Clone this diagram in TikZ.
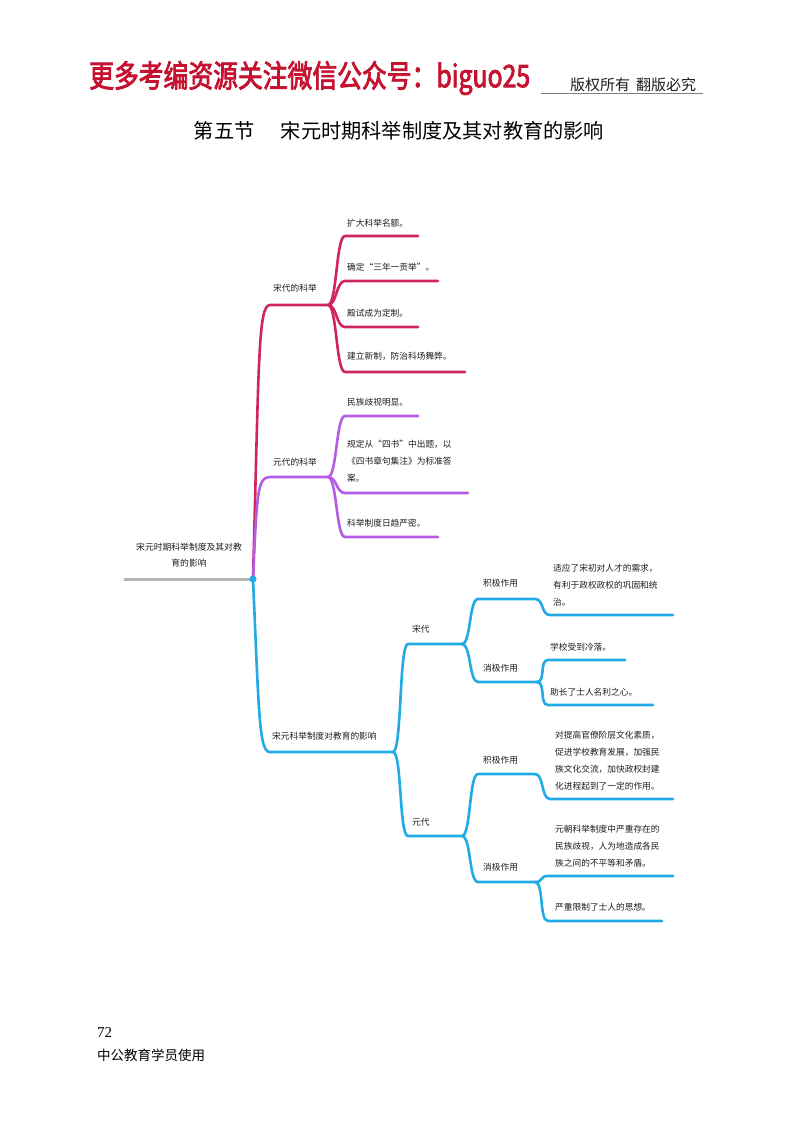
\documentclass[tikz,border=0pt]{standalone}
\usepackage{fontspec}
\newfontfamily\cjk{Noto Sans CJK SC}
\newfontfamily\cjkhead[FakeStretch=0.8,FakeBold=2.5]{Noto Sans CJK SC}
\newfontfamily\pagenum{Liberation Serif}
\definecolor{songc}{RGB}{206,38,92}
\definecolor{yuanc}{RGB}{180,92,230}
\definecolor{effc}{RGB}{32,170,230}
\definecolor{rootc}{RGB}{180,180,180}
\definecolor{headred}{RGB}{196,18,48}
\definecolor{txt}{RGB}{30,30,30}

\begin{document}
\begin{tikzpicture}[x=1pt, y=-1pt,
	every node/.style={inner sep=0pt, text=txt, font=\cjk\fontsize{8.7}{17}\selectfont},
	lbl/.style={anchor=west},
	leaf/.style={anchor=west, align=left},
	songline/.style={draw=songc, line width=2.6pt, line cap=round},
	yuanline/.style={draw=yuanc, line width=2.6pt, line cap=round},
	effline/.style={draw=effc, line width=2.6pt, line cap=round},
	fork/.style={to path={.. controls +(9,0) and +(-9,0) .. (\tikztotarget) \tikztonodes}}]
	\fill[white] (0,0) rectangle (800,1124);
	\useasboundingbox (0,0) rectangle (800,1124);

	% header
	\node[anchor=west, font=\cjkhead\fontsize{31}{31}\selectfont, text=headred] (head) at (89,78) {更多考编资源关注微信公众号：biguo25};
	\node[anchor=west, font=\cjk\fontsize{15}{15}\selectfont] (rights) at (570,85) {版权所有\hspace{0.4em}翻版必究};
	\coordinate (ulA) at (541,93);
	\coordinate (ulB) at (703,93);
	\draw[gray, line width=0.8pt] (ulA) -- (ulB);
	\node[font=\cjk\fontsize{20.2}{21}\selectfont, text=black] (title) at (399,131) {第五节\hspace{1.3em}宋元时期科举制度及其对教育的影响};

	% root
	\coordinate (root) at (253,579);
	\coordinate (rootend) at (124,579);
	\draw[draw=rootc, line width=3pt] (rootend) -- (root);
	\node[align=center, font=\cjk\fontsize{8.8}{16}\selectfont] (roottxt) at (189,555) {宋元时期科举制度及其对教\\育的影响};

	% song
	\coordinate (songL) at (270,305);
	\coordinate (songR) at (328,305);
	\draw[songline] (root) .. controls (259,360) and (258,305) .. (songL) -- (songR);
	\node[lbl] (song) at (273,288) {宋代的科举};
	\foreach \y/\xe [count=\i] in {236/418, 281/438, 327/418, 372/465} {
		\coordinate (sa\i) at (345,\y);
		\coordinate (sb\i) at (\xe,\y);
		\draw[songline] (songR) to[fork] (sa\i) -- (sb\i);
	}
	\node[leaf] (s1) at (347,223) {扩大科举名额。};
	\node[leaf] (s2) at (347,267) {确定“三年一贡举”。};
	\node[leaf] (s3) at (347,313) {殿试成为定制。};
	\node[leaf] (s4) at (347,356) {建立新制，防治科场舞弊。};

	% yuan
	\coordinate (yuanL) at (270,477);
	\coordinate (yuanR) at (328,477);
	\draw[yuanline] (root) .. controls (257,495) and (257,477) .. (yuanL) -- (yuanR);
	\node[lbl] (yuan) at (273,462) {元代的科举};
	\foreach \y/\xe [count=\i] in {416/418, 493/468, 537/438} {
		\coordinate (ya\i) at (345,\y);
		\coordinate (yb\i) at (\xe,\y);
		\draw[yuanline] (yuanR) to[fork] (ya\i) -- (yb\i);
	}
	\node[leaf] (y1) at (347,402) {民族歧视明显。};
	\node[leaf] (y2) at (347,461) {规定从“四书”中出题，以\\《四书章句集注》为标准答\\案。};
	\node[leaf] (y3) at (347,523) {科举制度日趋严密。};

	% effects
	\coordinate (effL) at (270,752);
	\coordinate (effR) at (393,752);
	\draw[effline] (root) .. controls (259,715) and (259,752) .. (effL) -- (effR);
	\node[lbl] (eff) at (272,736) {宋元科举制度对教育的影响};

	\coordinate (sdL) at (408,644);
	\coordinate (sdR) at (462,644);
	\coordinate (ydL) at (408,836);
	\coordinate (ydR) at (462,836);
	\draw[effline] (effR) to[fork] (sdL) -- (sdR);
	\draw[effline] (effR) to[fork] (ydL) -- (ydR);
	\node[lbl] (sd) at (412,629) {宋代};
	\node[lbl] (yd) at (412,822) {元代};

	% song effects
	\coordinate (sposL) at (478,599);
	\coordinate (sposR) at (535,599);
	\coordinate (snegL) at (478,682);
	\coordinate (snegR) at (537,682);
	\draw[effline] (sdR) to[fork] (sposL) -- (sposR);
	\draw[effline] (sdR) to[fork] (snegL) -- (snegR);
	\node[lbl] (spos) at (483,583) {积极作用};
	\node[lbl] (sneg) at (483,668) {消极作用};
	\coordinate (sp1a) at (550,615);
	\coordinate (sp1b) at (673,615);
	\draw[effline] (sposR) to[fork] (sp1a) -- (sp1b);
	\node[leaf] (sp1) at (553,585) {适应了宋初对人才的需求，\\有利于政权政权的巩固和统\\治。};
	\foreach \y/\xe [count=\i] in {660/625, 705/653} {
		\coordinate (sna\i) at (548,\y);
		\coordinate (snb\i) at (\xe,\y);
		\draw[effline] (snegR) to[fork] (sna\i) -- (snb\i);
	}
	\node[leaf] (sn1) at (550,647) {学校受到冷落。};
	\node[leaf] (sn2) at (550,692) {助长了士人名利之心。};

	% yuan effects
	\coordinate (yposL) at (478,774);
	\coordinate (yposR) at (535,774);
	\coordinate (ynegL) at (478,882);
	\coordinate (ynegR) at (535,882);
	\draw[effline] (ydR) to[fork] (yposL) -- (yposR);
	\draw[effline] (ydR) to[fork] (ynegL) -- (ynegR);
	\node[lbl] (ypos) at (483,760) {积极作用};
	\node[lbl] (yneg) at (483,867) {消极作用};
	\coordinate (yp1a) at (550,799);
	\coordinate (yp1b) at (673,799);
	\draw[effline] (yposR) to[fork] (yp1a) -- (yp1b);
	\node[leaf] (yp1) at (555,761) {对提高官僚阶层文化素质，\\促进学校教育发展，加强民\\族文化交流，加快政权封建\\化进程起到了一定的作用。};
	\foreach \y/\xe [count=\i] in {876/673, 921/662} {
		\coordinate (yna\i) at (548,\y);
		\coordinate (ynb\i) at (\xe,\y);
		\draw[effline] (ynegR) to[fork] (yna\i) -- (ynb\i);
	}
	\node[leaf] (yn1) at (555,846) {元朝科举制度中严重存在的\\民族歧视，人为地造成各民\\族之间的不平等和矛盾。};
	\node[leaf] (yn2) at (555,907) {严重限制了士人的思想。};

	\fill[effc] (root) circle[radius=3.5pt];

	% footer
	\node[anchor=west, font=\pagenum\fontsize{15}{15}\selectfont, text=black] (pg) at (97,1033) {72};
	\node[anchor=west, font=\cjk\fontsize{13.5}{14}\selectfont, text=black] (pub) at (97,1055) {中公教育学员使用};
\end{tikzpicture}
\end{document}
